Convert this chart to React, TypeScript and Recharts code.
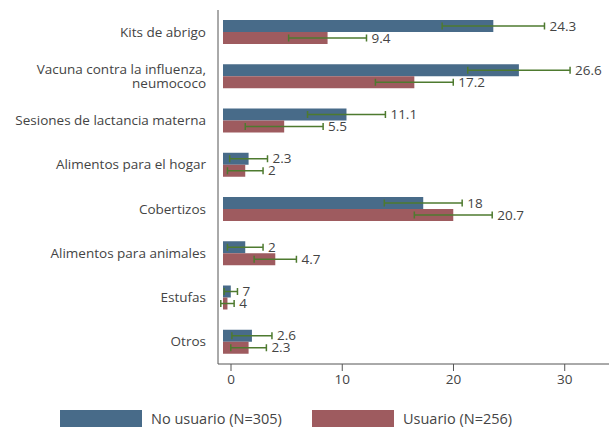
import React from "react";
import {Bar, BarChart, ErrorBar, LabelList, XAxis, YAxis} from "recharts";

const categories = [
    "Kits de abrigo",
    "Vacuna contra la influenza, neumococo",
    "Sesiones de lactancia materna",
    "Alimentos para el hogar",
    "Cobertizos",
    "Alimentos para animales",
    "Estufas",
    "Otros",
];
const noUsuario = [24.3, 26.6, 11.1, 2.3, 18, 2, 0.7, 2.6];
const usuario = [9.4, 17.2, 5.5, 2, 20.7, 4.7, 0.4, 2.3];
// half width of the confidence interval
const noUsuarioErr = [4.6, 4.6, 3.5, 1.7, 3.5, 1.6, 0.6, 1.8];
const usuarioErr = [3.5, 3.5, 3.5, 1.6, 3.5, 1.9, 0.6, 1.6];
const xTicks = [0, 10, 20, 30];
const seriesNames = ["No usuario (N=305)", "Usuario (N=256)"];

const BLUE = "#486b89";
const RED = "#9e5b5f";
const GREEN = "#4e7a2f";
const TEXT = "#444";
const FONT = "'Open Sans', sans-serif";

const data = categories.map((name, i) => ({
    name,
    noUsuario: noUsuario[i],
    usuario: usuario[i],
    noUsuarioErr: noUsuarioErr[i],
    usuarioErr: usuarioErr[i],
}));

// the source prints values under 1 without the "0."
const fmt = (v: number) => (v < 1 ? String(v).slice(2) : String(v));

const valueLabel = (errs: number[]) => (props: any) => {
    const vb = props.viewBox ?? props;
    const {x, y, width, height} = vb;
    const value = Number(props.value);
    const i = props.index;
    const pxPerUnit = value ? width / value : 0;
    const tx = x + width + errs[i] * pxPerUnit + 5;
    return (
        <text x={tx} y={y + height / 2} dy="0.35em" fontSize={13.5} fill={TEXT} fontFamily={FONT}>
            {fmt(value)}
        </text>
    );
};

const CategoryTick = (props: any) => {
    const {x, y, payload} = props;
    const label: string = payload.value;
    const lines = label.length > 30 ? label.replace(", ", ",\n").split("\n") : [label];
    const start = -((lines.length - 1) * 14) / 2;
    return (
        <text x={x} y={y} textAnchor="end" fontSize={13.5} fill={TEXT} fontFamily={FONT}>
            {lines.map((l, k) => (
                <tspan key={k} x={x} dy={k === 0 ? start + 4.5 : 14}>{l}</tspan>
            ))}
        </text>
    );
};

const Legend = () => (
    <div style={{position: "absolute", left: 0, top: 410, width: 609, height: 17, fontFamily: FONT, fontSize: 14.5, color: TEXT}}>
        {[BLUE, RED].map((c, i) => (
            <div key={i} style={{position: "absolute", left: i === 0 ? 60 : 312, top: 0, display: "flex", alignItems: "center"}}>
                <div style={{width: 82, height: 17, background: c}}/>
                <span style={{marginLeft: 9, lineHeight: "17px"}}>{seriesNames[i]}</span>
            </div>
        ))}
    </div>
);

export default function App() {
    return (
        <div style={{position: "absolute", left: 0, top: 0, width: 609, height: 427, background: "#fff"}}>
            <BarChart
                width={609}
                height={427}
                data={data}
                layout="vertical"
                barGap={0}
                barSize={12}
                margin={{top: 10, right: 0, bottom: 33, left: 0}}
            >
                <XAxis xAxisId="bar" type="number" domain={[-0.45, 34.7]} hide height={0} allowDataOverflow/>
                <XAxis
                    xAxisId="tick"
                    type="number"
                    domain={[-1.17, 33.98]}
                    ticks={xTicks}
                    allowDataOverflow
                    height={30}
                    stroke="#555"
                    tickSize={7}
                    tickMargin={3}
                    tick={{fontSize: 13.5, fill: TEXT, fontFamily: FONT}}
                />
                <YAxis
                    type="category"
                    dataKey="name"
                    width={218}
                    stroke="#555"
                    tickLine={false}
                    tickSize={0}
                    tickMargin={12}
                    tick={<CategoryTick/>}
                    interval={0}
                />
                <Bar xAxisId="bar" dataKey="noUsuario" fill={BLUE} isAnimationActive={false}>
                    <ErrorBar dataKey="noUsuarioErr" direction="x" width={3.5} stroke={GREEN} strokeWidth={1.5}/>
                    <LabelList dataKey="noUsuario" content={valueLabel(noUsuarioErr)}/>
                </Bar>
                <Bar xAxisId="bar" dataKey="usuario" fill={RED} isAnimationActive={false}>
                    <ErrorBar dataKey="usuarioErr" direction="x" width={3.5} stroke={GREEN} strokeWidth={1.5}/>
                    <LabelList dataKey="usuario" content={valueLabel(usuarioErr)}/>
                </Bar>
            </BarChart>
            <Legend/>
        </div>
    );
}
